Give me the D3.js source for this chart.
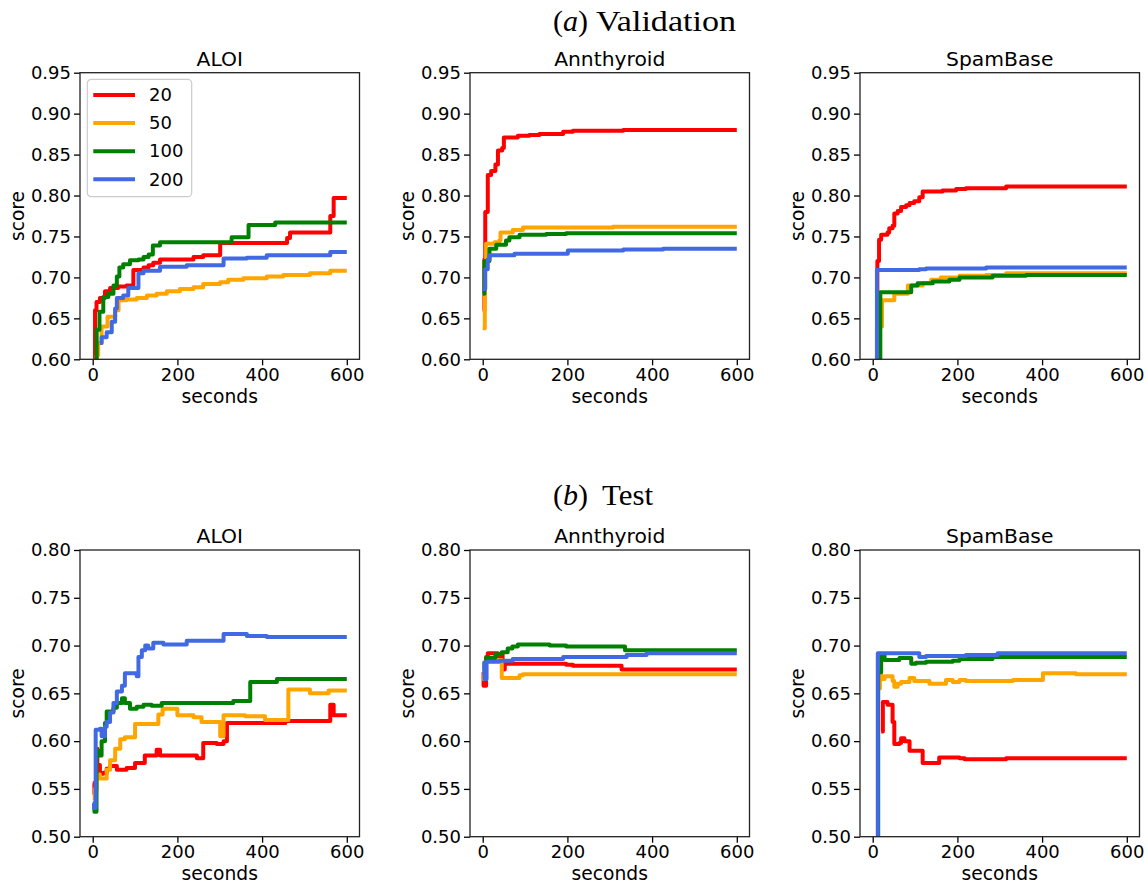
<!DOCTYPE html>
<html><head><meta charset="utf-8">
<script src="https://cdn.jsdelivr.net/npm/d3@7"></script>
<style>body{margin:0;background:#fff}</style>
</head><body>
<svg id="chart" width="1148" height="883"></svg>
<script>
// ---------- data ----------
const seriesNames = ["20", "50", "100", "200"];
const seriesColors = ["#ff0000", "#ffa500", "#008000", "#4169e1"];
const datasets = ["ALOI", "Annthyroid", "SpamBase"];
const rowTitles = ["Validation", "Test"];
const rowLetters = ["a", "b"];
const xTicks = [0, 200, 400, 600];
const valTicks = [0.60, 0.65, 0.70, 0.75, 0.80, 0.85, 0.90, 0.95];
const testTicks = [0.50, 0.55, 0.60, 0.65, 0.70, 0.75, 0.80];

// (a) Validation — ALOI
const valAloi20 = [[4,0.55],[5.5,0.66],[9,0.67],[17,0.675],[29,0.683],[41,0.687],[60,0.689],[80,0.690],[96,0.709],[120,0.712],[132,0.715],[143,0.718],[159,0.722],[238,0.725],[261,0.727],[301,0.742],[459,0.748],[466,0.755],[561,0.775],[569,0.797],[600,0.797]];
const valAloi50 = [[8,0.55],[9.4,0.605],[13,0.62],[21,0.64],[35,0.652],[53,0.66],[61,0.672],[80,0.673],[104,0.675],[128,0.678],[151,0.68],[175,0.683],[206,0.686],[238,0.688],[261,0.692],[301,0.694],[320,0.697],[356,0.699],[411,0.701],[450,0.703],[513,0.705],[561,0.708],[600,0.708]];
const valAloi100 = [[8,0.60],[9.4,0.636],[16,0.658],[25,0.676],[37,0.68],[49,0.69],[57,0.701],[63,0.712],[72,0.716],[88,0.721],[108,0.722],[120,0.725],[132,0.728],[142,0.739],[159,0.743],[328,0.749],[368,0.764],[431,0.767],[600,0.767]];
const valAloi200 = [[17,0.62],[21,0.627],[33,0.633],[45,0.646],[53,0.662],[57,0.675],[72,0.678],[84,0.687],[108,0.705],[120,0.708],[159,0.713],[222,0.715],[309,0.723],[364,0.724],[411,0.727],[561,0.731],[600,0.731]];
// (a) Validation — Annthyroid
const valAnn20 = [[0,0.66],[4,0.722],[6,0.78],[12,0.825],[20,0.83],[30,0.838],[36,0.855],[46,0.858],[50,0.871],[83,0.873],[110,0.874],[134,0.875],[190,0.878],[213,0.879],[332,0.88],[600,0.88]];
const valAnn50 = [[0,0.638],[5,0.72],[8,0.741],[28,0.743],[39,0.745],[42,0.755],[71,0.758],[95,0.761],[308,0.762],[600,0.762]];
const valAnn100 = [[0,0.68],[4,0.72],[16,0.735],[32,0.74],[55,0.745],[63,0.749],[87,0.752],[150,0.753],[197,0.754],[600,0.754]];
const valAnn200 = [[0,0.686],[6,0.71],[12,0.722],[16,0.727],[75,0.729],[201,0.733],[332,0.734],[426,0.735],[600,0.735]];
// (a) Validation — SpamBase
const valSpam20 = [[8,0.55],[11,0.72],[15,0.746],[20,0.752],[35,0.755],[39,0.76],[47,0.763],[51,0.778],[59,0.781],[67,0.786],[79,0.788],[87,0.791],[98,0.793],[110,0.798],[118,0.805],[165,0.806],[197,0.808],[220,0.809],[315,0.811],[600,0.811]];
const valSpam50 = [[14,0.55],[17,0.64],[22,0.672],[51,0.68],[83,0.69],[118,0.693],[138,0.697],[161,0.70],[205,0.702],[268,0.703],[315,0.705],[600,0.705]];
const valSpam100 = [[14,0.55],[18,0.682],[91,0.69],[106,0.693],[142,0.695],[181,0.697],[205,0.70],[283,0.702],[362,0.703],[600,0.703]];
const valSpam200 = [[8,0.55],[10,0.709],[110,0.710],[126,0.711],[268,0.712],[600,0.712]];

// (b) Test — ALOI
const testAloi20 = [[0,0.556],[4,0.545],[8,0.592],[11,0.575],[17,0.566],[25,0.567],[33,0.571],[41,0.574],[57,0.570],[80,0.572],[100,0.577],[123,0.585],[151,0.591],[159,0.585],[246,0.582],[261,0.598],[293,0.597],[309,0.600],[317,0.619],[455,0.621],[561,0.638],[569,0.627],[600,0.627]];
const testAloi50 = [[0,0.54],[5,0.55],[9,0.565],[17,0.561],[33,0.57],[41,0.58],[53,0.592],[65,0.602],[76,0.604],[100,0.618],[155,0.628],[165,0.634],[200,0.627],[238,0.625],[257,0.620],[301,0.605],[309,0.627],[360,0.626],[407,0.622],[462,0.654],[513,0.650],[557,0.653],[600,0.653]];
const testAloi100 = [[0,0.53],[4,0.526],[9,0.59],[17,0.585],[21,0.60],[29,0.619],[33,0.631],[49,0.635],[57,0.64],[69,0.645],[76,0.64],[88,0.634],[104,0.636],[120,0.638],[139,0.637],[163,0.640],[332,0.642],[372,0.662],[435,0.665],[600,0.665]];
const testAloi200 = [[0,0.535],[3,0.53],[7,0.612],[17,0.613],[21,0.605],[29,0.615],[33,0.62],[41,0.63],[49,0.64],[57,0.652],[69,0.658],[76,0.671],[104,0.668],[108,0.688],[116,0.695],[124,0.70],[131,0.697],[143,0.703],[167,0.701],[222,0.705],[309,0.712],[364,0.710],[411,0.709],[600,0.709]];
// (b) Test — Annthyroid
const testAnn20 = [[0,0.672],[2,0.658],[8,0.688],[12,0.692],[36,0.684],[43,0.691],[47,0.675],[52,0.681],[197,0.680],[213,0.679],[328,0.675],[600,0.675]];
const testAnn50 = [[0,0.67],[2,0.665],[8,0.685],[39,0.685],[45,0.666],[87,0.669],[95,0.670],[308,0.670],[600,0.670]];
const testAnn100 = [[0,0.675],[4,0.682],[8,0.687],[30,0.691],[45,0.693],[59,0.697],[70,0.699],[83,0.701],[158,0.700],[197,0.699],[336,0.695],[600,0.695]];
const testAnn200 = [[0,0.682],[4,0.665],[9,0.683],[39,0.684],[71,0.686],[190,0.688],[340,0.690],[387,0.692],[600,0.692]];
// (b) Test — SpamBase
const testSpam20 = [[20,0.61],[24,0.641],[35,0.638],[47,0.62],[51,0.597],[63,0.598],[67,0.603],[75,0.60],[87,0.59],[118,0.577],[157,0.583],[205,0.582],[217,0.581],[315,0.582],[600,0.582]];
const testSpam50 = [[16,0.655],[17,0.67],[20,0.665],[28,0.668],[41,0.668],[47,0.663],[51,0.657],[59,0.66],[67,0.662],[87,0.666],[98,0.663],[134,0.66],[173,0.664],[189,0.662],[205,0.664],[220,0.663],[331,0.664],[402,0.671],[480,0.670],[600,0.670]];
const testSpam100 = [[11,0.45],[13,0.672],[20,0.69],[28,0.685],[63,0.687],[91,0.681],[102,0.682],[126,0.683],[189,0.684],[205,0.686],[283,0.688],[600,0.688]];
const testSpam200 = [[9,0.45],[12,0.692],[110,0.688],[126,0.689],[220,0.690],[295,0.692],[600,0.692]];

const valSeries = [
  [valAloi20, valAloi50, valAloi100, valAloi200],
  [valAnn20, valAnn50, valAnn100, valAnn200],
  [valSpam20, valSpam50, valSpam100, valSpam200]
];
const testSeries = [
  [testAloi20, testAloi50, testAloi100, testAloi200],
  [testAnn20, testAnn50, testAnn100, testAnn200],
  [testSpam20, testSpam50, testSpam100, testSpam200]
];

// ---------- layout ----------
const svg = d3.select("#chart");
svg.append("rect").attr("width", 1148).attr("height", 883).attr("fill", "#fff");
const FONT = "DejaVu Sans, sans-serif";
const SERIF = "Liberation Serif, 'DejaVu Serif', serif";
const colLeft = [80, 470, 860];
const pw = 279.5;
const rowsCfg = [
  {top: 72.7, h: 286.6, ticks: valTicks, series: valSeries, supY: 31, wordX: 596, wordLen: 140, xlabDy: 44},
  {top: 550, h: 286.7, ticks: testTicks, series: testSeries, supY: 505, wordX: 602, wordLen: 51, xlabDy: 43.3}
];

rowsCfg.forEach((row, ri) => {
  // row super-title
  const st = svg.append("text").attr("x", 553).attr("y", row.supY)
    .attr("font-family", SERIF).attr("font-size", 30).attr("fill", "#000");
  st.append("tspan").text("(");
  st.append("tspan").attr("font-style", "italic").text(rowLetters[ri]);
  st.append("tspan").text(")");
  svg.append("text").attr("x", row.wordX).attr("y", row.supY)
    .attr("font-family", SERIF).attr("font-size", 30).attr("fill", "#000")
    .attr("textLength", row.wordLen).attr("lengthAdjust", "spacingAndGlyphs")
    .text(rowTitles[ri]);

  datasets.forEach((ds, ci) => {
    const g = svg.append("g").attr("transform", `translate(${colLeft[ci]},${row.top})`);
    const x = d3.scaleLinear().domain([-30, 630]).range([0, pw]);
    const y = d3.scaleLinear().domain([row.ticks[0], row.ticks[row.ticks.length - 1]]).range([row.h, 0]);
    const clipId = `clip-${ri}-${ci}`;
    g.append("clipPath").attr("id", clipId).append("rect").attr("width", pw).attr("height", row.h);

    const line = d3.line().x(d => x(d[0])).y(d => y(d[1])).curve(d3.curveStepAfter);
    const lg = g.append("g").attr("clip-path", `url(#${clipId})`);
    row.series[ci].forEach((s, si) => {
      lg.append("path").datum(s).attr("d", line)
        .attr("fill", "none").attr("stroke", seriesColors[si]).attr("stroke-width", 4)
        .attr("stroke-linejoin", "round").attr("stroke-linecap", "butt");
    });

    // axes
    const ya = g.append("g").call(d3.axisLeft(y).tickValues(row.ticks).tickFormat(d3.format(".2f")).tickSize(6).tickPadding(3));
    const xa = g.append("g").attr("transform", `translate(0,${row.h})`)
      .call(d3.axisBottom(x).tickValues(xTicks).tickFormat(d3.format("d")).tickSize(6).tickPadding(3));
    [ya, xa].forEach(a => {
      a.select(".domain").remove();
      a.selectAll("text").attr("font-family", FONT).attr("font-size", 18).attr("fill", "#000");
      a.selectAll("line").attr("stroke", "#000").attr("stroke-width", 1.3);
    });
    // frame
    g.append("rect").attr("width", pw).attr("height", row.h).attr("fill", "none")
      .attr("stroke", "#222").attr("stroke-width", 1.3);

    // titles
    g.append("text").attr("x", pw / 2).attr("y", -6.7).attr("text-anchor", "middle")
      .attr("font-family", FONT).attr("font-size", 20.3).attr("fill", "#000").text(ds);
    g.append("text").attr("x", pw / 2).attr("y", row.h + row.xlabDy).attr("text-anchor", "middle")
      .attr("font-family", FONT).attr("font-size", 18.7).attr("fill", "#000").text("seconds");
    g.append("text").attr("transform", `translate(-56,${row.h / 2}) rotate(-90)`).attr("text-anchor", "middle")
      .attr("font-family", FONT).attr("font-size", 18.7).attr("fill", "#000").text("score");

    // legend (first panel only)
    if (ri === 0 && ci === 0) {
      const leg = g.append("g").attr("transform", "translate(7.3,6.6)");
      leg.append("rect").attr("width", 104.4).attr("height", 117.4).attr("rx", 4)
        .attr("fill", "#fff").attr("fill-opacity", 0.8).attr("stroke", "#cccccc").attr("stroke-width", 1.2);
      seriesNames.forEach((nm, si) => {
        const yy = 15.7 + si * 28.1;
        leg.append("line").attr("x1", 6).attr("x2", 47.7).attr("y1", yy).attr("y2", yy)
          .attr("stroke", seriesColors[si]).attr("stroke-width", 4);
        leg.append("text").attr("x", 61.7).attr("y", yy).attr("dy", "0.35em")
          .attr("font-family", FONT).attr("font-size", 18).attr("fill", "#000").text(nm);
      });
    }
  });
});
</script>
</body></html>
